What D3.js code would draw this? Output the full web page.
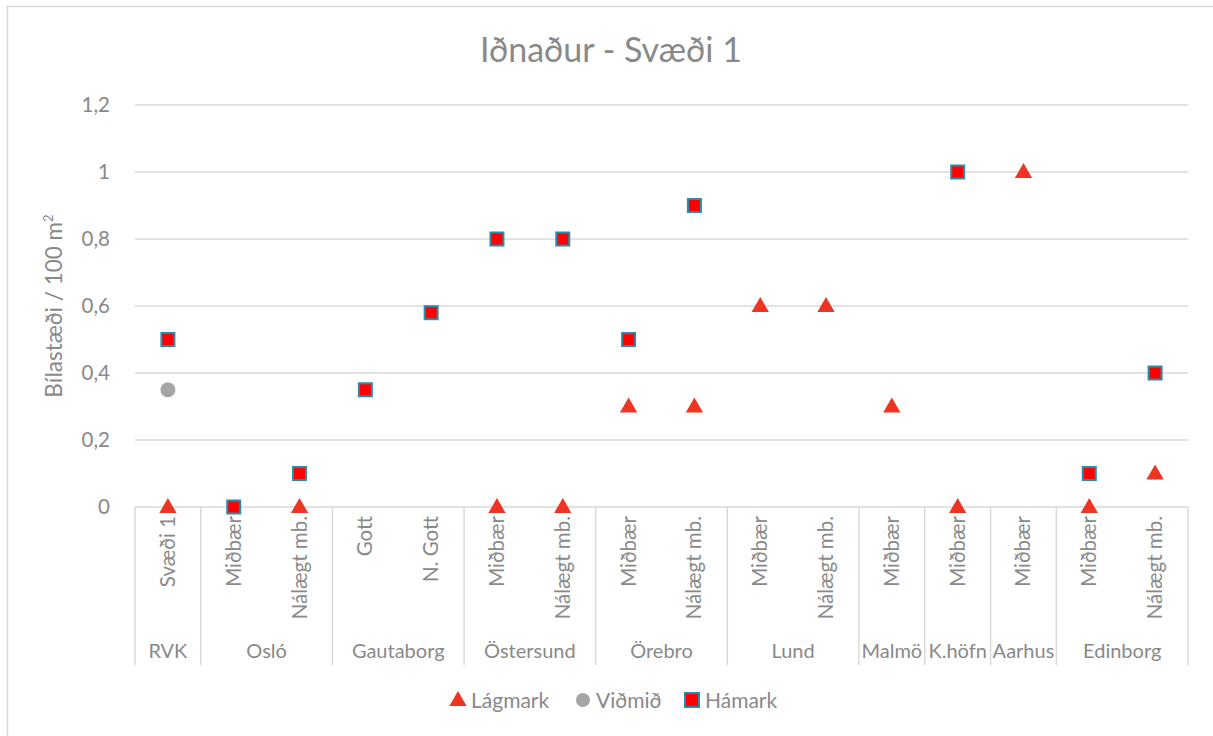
<!DOCTYPE html>
<html>
<head>
<meta charset="utf-8">
<script src="https://cdn.jsdelivr.net/npm/d3@7"></script>
<style>
  body { margin: 0; background: #fff; }
  text { font-family: Lato, "Open Sans", sans-serif; fill: #898989; }
</style>
</head>
<body>
<div id="chart"></div>
<script>
// categories (inner level) and their groups (outer level)
const categories = ["Svæði 1", "Miðbær", "Nálægt mb.", "Gott", "N. Gott", "Miðbær", "Nálægt mb.",
  "Miðbær", "Nálægt mb.", "Miðbær", "Nálægt mb.", "Miðbær", "Miðbær", "Miðbær", "Miðbær", "Nálægt mb."];
const groups = ["RVK", "Osló", "Osló", "Gautaborg", "Gautaborg", "Östersund", "Östersund",
  "Örebro", "Örebro", "Lund", "Lund", "Malmö", "K.höfn", "Aarhus", "Edinborg", "Edinborg"];

const lagmark = [0, null, 0, null, null, 0, 0, 0.3, 0.3, 0.6, 0.6, 0.3, 0, 1, 0, 0.1];
const vidmid  = [0.35, null, null, null, null, null, null, null, null, null, null, null, null, null, null, null];
const hamark  = [0.5, 0, 0.1, 0.35, 0.58, 0.8, 0.8, 0.5, 0.9, null, null, null, 1, null, 0.1, 0.4];

const yTicks = [0, 0.2, 0.4, 0.6, 0.8, 1, 1.2];

const width = 1213, height = 736;
const margin = { top: 105, right: 25, bottom: 229, left: 135 };
const plotW = width - margin.left - margin.right;
const plotH = height - margin.top - margin.bottom;

const svg = d3.select("#chart").append("svg")
  .attr("width", width)
  .attr("height", height);

// chart frame
svg.append("rect")
  .attr("x", 7.5).attr("y", 6.5)
  .attr("width", width).attr("height", height)
  .attr("fill", "none")
  .attr("stroke", "#d9d9d9")
  .attr("stroke-width", 1.5);

const g = svg.append("g").attr("transform", `translate(${margin.left},${margin.top})`);

const x = d3.scaleBand().domain(d3.range(categories.length)).range([0, plotW]);
const y = d3.scaleLinear().domain([0, 1.2]).range([plotH, 0]);
const fmt = d => String(d).replace(".", ",");

// gridlines
g.selectAll(".grid")
  .data(yTicks.filter(t => t > 0))
  .enter().append("line")
  .attr("x1", 0).attr("x2", plotW)
  .attr("y1", d => y(d)).attr("y2", d => y(d))
  .attr("stroke", "#d9d9d9")
  .attr("stroke-width", 1.5);

// y axis labels
const yAxis = g.append("g").call(d3.axisLeft(y).tickValues(yTicks).tickFormat(fmt).tickSize(0).tickPadding(25));
yAxis.select(".domain").remove();
yAxis.selectAll("text").style("font-size", "20.5px").attr("fill", "#898989").attr("font-family", "Lato, sans-serif");

// y axis title
g.append("text")
  .attr("transform", `translate(-73,${plotH / 2}) rotate(-90)`)
  .attr("text-anchor", "middle")
  .style("font-size", "22.5px")
  .html("Bílastæði / 100 m<tspan dy='-9' style='font-size:13px'>2</tspan>");

// category axis: baseline and separators
const axisG = g.append("g").attr("transform", `translate(0,${plotH})`);
axisG.append("line")
  .attr("x1", 0).attr("x2", plotW)
  .attr("stroke", "#d9d9d9").attr("stroke-width", 1.5);

// group spans
const groupSpans = [];
groups.forEach((grp, i) => {
  const last = groupSpans[groupSpans.length - 1];
  if (last && last.name === grp) last.end = i;
  else groupSpans.push({ name: grp, start: i, end: i });
});

const sepX = [0].concat(groupSpans.map(s => x(s.end) + x.bandwidth()));
axisG.selectAll(".sep")
  .data(sepX)
  .enter().append("line")
  .attr("x1", d => d).attr("x2", d => d)
  .attr("y1", 0).attr("y2", 158)
  .attr("stroke", "#d9d9d9").attr("stroke-width", 1.5);

axisG.selectAll(".cat")
  .data(categories)
  .enter().append("text")
  .attr("transform", (d, i) => `translate(${x(i) + x.bandwidth() / 2 + 7},9) rotate(-90)`)
  .attr("text-anchor", "end")
  .style("font-size", "20.5px")
  .text(d => d);

axisG.selectAll(".grp")
  .data(groupSpans)
  .enter().append("text")
  .attr("x", d => (x(d.start) + x(d.end) + x.bandwidth()) / 2)
  .attr("y", 151)
  .attr("text-anchor", "middle")
  .style("font-size", "20px")
  .text(d => d.name);

// markers
const triColor = "#ee3524";
const tri = d3.symbol().type(d3.symbolTriangle).size(130);
const cx = i => x(i) + x.bandwidth() / 2;

g.selectAll(".lag")
  .data(lagmark.map((v, i) => ({ v, i })).filter(d => d.v !== null))
  .enter().append("path")
  .attr("d", tri)
  .attr("transform", d => `translate(${cx(d.i)},${y(d.v) + 1})`)
  .attr("fill", triColor);

g.selectAll(".vid")
  .data(vidmid.map((v, i) => ({ v, i })).filter(d => d.v !== null))
  .enter().append("circle")
  .attr("cx", d => cx(d.i)).attr("cy", d => y(d.v))
  .attr("r", 7.5)
  .attr("fill", "#a5a5a5");

g.selectAll(".ham")
  .data(hamark.map((v, i) => ({ v, i })).filter(d => d.v !== null))
  .enter().append("rect")
  .attr("x", d => cx(d.i) - 6.5).attr("y", d => y(d.v) - 6.5)
  .attr("width", 13).attr("height", 13)
  .attr("fill", "#ff0000")
  .attr("stroke", "#2a8cab")
  .attr("stroke-width", 2);

// title
svg.append("text")
  .attr("x", 611).attr("y", 62)
  .attr("text-anchor", "middle")
  .style("font-size", "34px")
  .text("Iðnaður - Svæði 1");

// legend
const legend = svg.append("g").attr("transform", "translate(451,700)");
const items = [
  { name: "Lágmark", type: "tri", x: 0 },
  { name: "Viðmið", type: "circle", x: 125 },
  { name: "Hámark", type: "rect", x: 234 }
];
items.forEach(it => {
  const lg = legend.append("g").attr("transform", `translate(${it.x},0)`);
  if (it.type === "tri") lg.append("path").attr("d", tri).attr("transform", "translate(7,1)").attr("fill", triColor);
  if (it.type === "circle") lg.append("circle").attr("cx", 7).attr("cy", 0).attr("r", 7).attr("fill", "#a5a5a5");
  if (it.type === "rect") lg.append("rect").attr("x", 0).attr("y", -7).attr("width", 14).attr("height", 14)
    .attr("fill", "#ff0000").attr("stroke", "#2a8cab").attr("stroke-width", 2);
  lg.append("text").attr("x", 20).attr("y", 7.5).style("font-size", "21px").text(it.name);
});
</script>
</body>
</html>
